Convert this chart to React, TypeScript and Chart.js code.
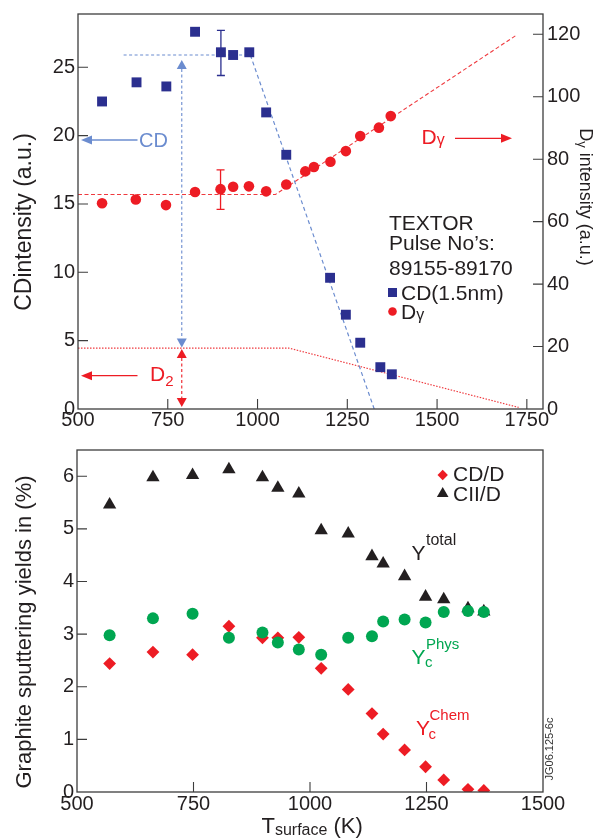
import React, { useEffect, useRef } from "react";
import { Chart, registerables } from "chart.js";

Chart.register(...registerables);

const FONT = "'Liberation Sans', Arimo, Arial, Helvetica, sans-serif";
const INK = "#231f20";
const FRAME = "#3d3d3d";
const NAVY = "#2b2f8f";
const RED = "#ed1c24";
const LBLUE = "#6b8ccf";
const GREEN = "#00a651";

// ---------- Top panel data ----------
const cdTemp = [567, 663, 746, 826, 898, 932, 977, 1024, 1080, 1202, 1246, 1286, 1342, 1374];
const cdIntensity = [22.5, 23.9, 23.6, 27.6, 26.1, 25.9, 26.1, 21.7, 18.6, 9.6, 6.9, 4.85, 3.06, 2.54];
const dgTemp = [567, 661, 745, 826, 897, 932, 976, 1024, 1080, 1133, 1157, 1203, 1246, 1286, 1338, 1371];
const dgIntensity = [65.9, 67.1, 65.3, 69.5, 70.4, 71.2, 71.3, 69.7, 71.9, 76.1, 77.5, 79.2, 82.6, 87.4, 90.1, 93.8];
const cdErrT = 898;
const cdErrLo = 24.4;
const cdErrHi = 27.7;
const dgErrT = 897;
const dgErrLo = 63.9;
const dgErrHi = 76.6;
const cdFlatT = [627, 980];
const cdFlatV = [25.9, 25.9];
const cdSlopeT = [980, 1325];
const cdSlopeV = [25.9, 0];
const dgFitT = [500, 1050, 1722];
const dgFitV = [68.7, 68.7, 119.8];
const d2T = [500, 1087, 1727];
const d2V = [19.5, 19.5, 0.5];
const arrowT = 789;
const topXTicks = [500, 750, 1000, 1250, 1500, 1750];
const topYTicks = [0, 5, 10, 15, 20, 25];
const topY2Ticks = [0, 20, 40, 60, 80, 100, 120];

// ---------- Bottom panel data ----------
const yTemp = [570, 663, 748, 826, 898, 931, 976, 1024, 1082, 1133, 1157, 1203, 1248, 1287, 1339, 1373];
const ciiD = [5.46, 5.98, 6.02, 6.13, 5.98, 5.78, 5.67, 4.97, 4.91, 4.48, 4.34, 4.1, 3.71, 3.66, 3.49, 3.43];
const cdD = [2.44, 2.66, 2.61, 3.15, 2.93, 2.93, 2.94, 2.35, 1.95, 1.49, 1.1, 0.8, 0.48, 0.23, 0.05, 0.03];
const yPhys = [2.98, 3.3, 3.39, 2.93, 3.03, 2.84, 2.71, 2.61, 2.93, 2.96, 3.24, 3.28, 3.22, 3.42, 3.44, 3.42];
const botXTicks = [500, 750, 1000, 1250, 1500];
const botYTicks = [0, 1, 2, 3, 4, 5, 6];

const pts = (xs: number[], ys: number[]) => xs.map((x, i) => ({ x, y: ys[i] }));
const fmt = (v: any) => String(v);
const fixTicks = (vals: number[]) => (s: any) => {
  s.ticks = vals.map((v) => ({ value: v }));
};

type Part = { t: string; size: number; dy?: number; color?: string };

function richWidth(ctx: CanvasRenderingContext2D, parts: Part[]) {
  let w = 0;
  for (const p of parts) {
    ctx.font = `${p.size}px ${FONT}`;
    w += ctx.measureText(p.t).width;
  }
  return w;
}

function drawRich(ctx: CanvasRenderingContext2D, x: number, y: number, parts: Part[], color: string, align = "left") {
  const w = richWidth(ctx, parts);
  let cx = align === "center" ? x - w / 2 : x;
  ctx.textBaseline = "alphabetic";
  ctx.textAlign = "left";
  for (const p of parts) {
    ctx.font = `${p.size}px ${FONT}`;
    ctx.fillStyle = p.color || color;
    ctx.fillText(p.t, cx, y + (p.dy || 0));
    cx += ctx.measureText(p.t).width;
  }
}

function drawRotated(ctx: CanvasRenderingContext2D, cx: number, cy: number, angle: number, parts: Part[], color: string) {
  ctx.save();
  ctx.translate(cx, cy);
  ctx.rotate(angle);
  drawRich(ctx, 0, parts[0].size * 0.36, parts, color, "center");
  ctx.restore();
}

function hArrow(ctx: CanvasRenderingContext2D, tail: number, tip: number, y: number, color: string) {
  const dir = tip > tail ? 1 : -1;
  const hl = 11;
  ctx.strokeStyle = color;
  ctx.fillStyle = color;
  ctx.lineWidth = 1.3;
  ctx.setLineDash([]);
  ctx.beginPath();
  ctx.moveTo(tail, y);
  ctx.lineTo(tip - dir * hl, y);
  ctx.stroke();
  ctx.beginPath();
  ctx.moveTo(tip, y);
  ctx.lineTo(tip - dir * hl, y - 4.5);
  ctx.lineTo(tip - dir * hl, y + 4.5);
  ctx.closePath();
  ctx.fill();
}

function vArrow(ctx: CanvasRenderingContext2D, x: number, yTop: number, yBot: number, color: string) {
  const hl = 9;
  const hw = 5;
  ctx.fillStyle = color;
  ctx.strokeStyle = color;
  ctx.lineWidth = 1.1;
  ctx.setLineDash([3, 2.5]);
  ctx.beginPath();
  ctx.moveTo(x, yTop + hl);
  ctx.lineTo(x, yBot - hl);
  ctx.stroke();
  ctx.setLineDash([]);
  ctx.beginPath();
  ctx.moveTo(x, yTop);
  ctx.lineTo(x - hw, yTop + hl);
  ctx.lineTo(x + hw, yTop + hl);
  ctx.closePath();
  ctx.fill();
  ctx.beginPath();
  ctx.moveTo(x, yBot);
  ctx.lineTo(x - hw, yBot - hl);
  ctx.lineTo(x + hw, yBot - hl);
  ctx.closePath();
  ctx.fill();
}

function errorBar(ctx: CanvasRenderingContext2D, x: number, yLo: number, yHi: number, color: string) {
  ctx.strokeStyle = color;
  ctx.lineWidth = 1.3;
  ctx.setLineDash([]);
  ctx.beginPath();
  ctx.moveTo(x, yLo);
  ctx.lineTo(x, yHi);
  ctx.moveTo(x - 4, yLo);
  ctx.lineTo(x + 4, yLo);
  ctx.moveTo(x - 4, yHi);
  ctx.lineTo(x + 4, yHi);
  ctx.stroke();
}

function frameAndTicks(chart: any, tickLen: number, axes: { id: string; side: string }[]) {
  const { ctx, chartArea: a } = chart;
  ctx.save();
  ctx.strokeStyle = FRAME;
  ctx.lineWidth = 1.3;
  ctx.setLineDash([]);
  ctx.strokeRect(a.left, a.top, a.right - a.left, a.bottom - a.top);
  ctx.beginPath();
  for (const ax of axes) {
    const s = chart.scales[ax.id];
    for (const t of s.ticks) {
      const p = s.getPixelForValue(t.value);
      if (ax.side === "bottom") {
        if (p <= a.left + 1 || p >= a.right - 1) continue;
        ctx.moveTo(p, a.bottom);
        ctx.lineTo(p, a.bottom - tickLen);
      } else {
        if (p >= a.bottom - 1 || p <= a.top + 1) continue;
        if (ax.side === "left") {
          ctx.moveTo(a.left, p);
          ctx.lineTo(a.left + tickLen, p);
        } else {
          ctx.moveTo(a.right, p);
          ctx.lineTo(a.right - tickLen, p);
        }
      }
    }
  }
  ctx.lineWidth = 1.1;
  ctx.stroke();
  ctx.restore();
}

const topDeco = {
  id: "topDeco",
  beforeDatasetsDraw(chart: any) {
    const { ctx } = chart;
    const { x, y, y2 } = chart.scales;
    ctx.save();
    errorBar(ctx, x.getPixelForValue(cdErrT), y.getPixelForValue(cdErrLo), y.getPixelForValue(cdErrHi), NAVY);
    errorBar(ctx, x.getPixelForValue(dgErrT), y2.getPixelForValue(dgErrLo), y2.getPixelForValue(dgErrHi), RED);
    const ax = x.getPixelForValue(arrowT);
    const yTop = y.getPixelForValue(cdFlatV[0]);
    const yMid = y2.getPixelForValue(d2V[0]);
    const yBot = y.getPixelForValue(0);
    vArrow(ctx, ax, yTop + 5, yMid - 0.5, LBLUE);
    vArrow(ctx, ax, yMid + 1, yBot - 2, RED);
    ctx.restore();
  },
  afterDraw(chart: any) {
    frameAndTicks(chart, 10, [
      { id: "x", side: "bottom" },
      { id: "y", side: "left" },
      { id: "y2", side: "right" },
    ]);
    const { ctx, chartArea: a } = chart;
    ctx.save();
    // CD arrow
    hArrow(ctx, 137.5, a.left + 3, 140, LBLUE);
    drawRich(ctx, 139, 146.5, [{ t: "CD", size: 20 }], LBLUE);
    // D gamma arrow
    drawRich(ctx, 421.5, 144, [{ t: "D", size: 21 }, { t: "γ", size: 16, dy: 1 }], RED);
    hArrow(ctx, 455, 512, 138.3, RED);
    // D2 arrow
    hArrow(ctx, 137.5, a.left + 3, 375.7, RED);
    drawRich(ctx, 150, 381, [{ t: "D", size: 21 }, { t: "2", size: 15, dy: 5 }], RED);
    // legend block
    drawRich(ctx, 389, 230, [{ t: "TEXTOR", size: 21 }], INK);
    drawRich(ctx, 389, 249.5, [{ t: "Pulse No’s:", size: 21 }], INK);
    drawRich(ctx, 389, 275, [{ t: "89155-89170", size: 21 }], INK);
    ctx.fillStyle = NAVY;
    ctx.fillRect(388, 288, 9, 9);
    drawRich(ctx, 401, 299.5, [{ t: "CD(1.5nm)", size: 21 }], INK);
    ctx.fillStyle = RED;
    ctx.beginPath();
    ctx.arc(392.5, 311.5, 4.3, 0, Math.PI * 2);
    ctx.fill();
    drawRich(ctx, 401, 318.5, [{ t: "D", size: 21 }, { t: "γ", size: 16, dy: 1 }], INK);
    // axis titles
    drawRotated(ctx, 23, 222, -Math.PI / 2, [{ t: "CDintensity (a.u.)", size: 23 }], INK);
    drawRotated(ctx, 586, 197, Math.PI / 2, [
      { t: "D", size: 18 },
      { t: "γ", size: 13, dy: 2 },
      { t: " intensity (a.u.)", size: 18 },
    ], INK);
    ctx.restore();
  },
};

const botDeco = {
  id: "botDeco",
  afterDraw(chart: any) {
    frameAndTicks(chart, 10, [
      { id: "x", side: "bottom" },
      { id: "y", side: "left" },
    ]);
    const { ctx } = chart;
    const o = 432;
    ctx.save();
    // legend
    ctx.fillStyle = RED;
    ctx.beginPath();
    ctx.moveTo(442.7, 475 - o - 5.2);
    ctx.lineTo(447.9, 475 - o);
    ctx.lineTo(442.7, 475 - o + 5.2);
    ctx.lineTo(437.5, 475 - o);
    ctx.closePath();
    ctx.fill();
    drawRich(ctx, 453, 480.5 - o, [{ t: "CD/D", size: 21 }], INK);
    ctx.fillStyle = INK;
    ctx.beginPath();
    ctx.moveTo(442.7, 493.5 - o - 6.5);
    ctx.lineTo(448.5, 493.5 - o + 3.5);
    ctx.lineTo(436.9, 493.5 - o + 3.5);
    ctx.closePath();
    ctx.fill();
    drawRich(ctx, 453, 500.5 - o, [{ t: "CII/D", size: 21 }], INK);
    // annotations
    drawRich(ctx, 411.5, 560 - o, [{ t: "Y", size: 21 }], INK);
    drawRich(ctx, 426, 545 - o, [{ t: "total", size: 16 }], INK);
    drawRich(ctx, 411.5, 663.5 - o, [{ t: "Y", size: 21 }], GREEN);
    drawRich(ctx, 426, 648.5 - o, [{ t: "Phys", size: 15 }], GREEN);
    drawRich(ctx, 425, 667 - o, [{ t: "c", size: 15 }], GREEN);
    drawRich(ctx, 416, 735 - o, [{ t: "Y", size: 21 }], RED);
    drawRich(ctx, 429.5, 719.5 - o, [{ t: "Chem", size: 15 }], RED);
    drawRich(ctx, 428.5, 738.5 - o, [{ t: "c", size: 15 }], RED);
    // figure id
    drawRotated(ctx, 549.5, 749 - o, -Math.PI / 2, [{ t: "JG06.125-6c", size: 11 }], "#333");
    // axis titles
    drawRotated(ctx, 23, 632 - o, -Math.PI / 2, [{ t: "Graphite sputtering yields in (%)", size: 22 }], INK);
    drawRich(ctx, 261.5, 833 - o, [
      { t: "T", size: 22 },
      { t: "surface", size: 16, dy: 2 },
      { t: " (K)", size: 22 },
    ], INK);
    ctx.restore();
  },
};

const tickFont = { family: FONT, size: 20, lineHeight: 1 };

function topConfig(): any {
  return {
    type: "scatter",
    data: {
      datasets: [
        {
          label: "CD(1.5nm)",
          data: pts(cdTemp, cdIntensity),
          yAxisID: "y",
          pointStyle: "rect",
          pointRadius: 7,
          pointBorderWidth: 0,
          backgroundColor: NAVY,
          borderColor: NAVY,
          order: 0,
        },
        {
          label: "Dγ",
          data: pts(dgTemp, dgIntensity),
          yAxisID: "y2",
          pointStyle: "circle",
          pointRadius: 5.3,
          pointBorderWidth: 0,
          backgroundColor: RED,
          borderColor: RED,
          order: 0,
        },
        {
          label: "CD flat",
          data: pts(cdFlatT, cdFlatV),
          yAxisID: "y",
          showLine: true,
          pointRadius: 0,
          borderColor: LBLUE,
          borderWidth: 1.2,
          borderDash: [3, 2.5],
          order: 2,
        },
        {
          label: "CD slope",
          data: pts(cdSlopeT, cdSlopeV),
          yAxisID: "y",
          showLine: true,
          pointRadius: 0,
          borderColor: LBLUE,
          borderWidth: 1.2,
          borderDash: [4, 3],
          order: 2,
        },
        {
          label: "Dγ fit",
          data: pts(dgFitT, dgFitV),
          yAxisID: "y2",
          showLine: true,
          pointRadius: 0,
          borderColor: "#ef3a3f",
          borderWidth: 1.1,
          borderDash: [4, 2.5],
          order: 2,
        },
        {
          label: "D2",
          data: pts(d2T, d2V),
          yAxisID: "y2",
          showLine: true,
          pointRadius: 0,
          borderColor: "#ef3a3f",
          borderWidth: 1.2,
          borderDash: [1.5, 1.5],
          order: 2,
        },
      ],
    },
    options: {
      responsive: false,
      animation: false,
      devicePixelRatio: 1,
      layout: { padding: { top: 6, left: 0, right: 0, bottom: 0 } },
      plugins: { legend: { display: false }, tooltip: { enabled: false } },
      events: [],
      scales: {
        x: {
          type: "linear",
          position: "bottom",
          min: 500,
          max: 1795,
          afterBuildTicks: fixTicks(topXTicks),
          afterFit: (s: any) => { s.height = 23; },
          grid: { display: false, drawTicks: false },
          border: { display: false },
          ticks: { font: tickFont, color: INK, padding: 1, maxRotation: 0, autoSkip: false, callback: fmt },
        },
        y: {
          type: "linear",
          position: "left",
          min: 0,
          max: 28.9,
          afterBuildTicks: fixTicks(topYTicks),
          afterFit: (s: any) => { s.width = 78; },
          grid: { display: false, drawTicks: false },
          border: { display: false },
          ticks: { font: tickFont, color: INK, padding: 3, autoSkip: false, callback: fmt },
        },
        y2: {
          type: "linear",
          position: "right",
          min: 0,
          max: 126.5,
          afterBuildTicks: fixTicks(topY2Ticks),
          afterFit: (s: any) => { s.width = 68; },
          grid: { display: false, drawTicks: false },
          border: { display: false },
          ticks: { font: tickFont, color: INK, padding: 4, autoSkip: false, callback: fmt },
        },
      },
    },
    plugins: [topDeco],
  };
}

function botConfig(): any {
  return {
    type: "scatter",
    data: {
      datasets: [
        {
          label: "CII/D",
          data: pts(yTemp, ciiD),
          pointStyle: "triangle",
          pointRadius: 7.7,
          pointBorderWidth: 0,
          backgroundColor: INK,
          borderColor: INK,
          order: 2,
        },
        {
          label: "CD/D",
          data: pts(yTemp, cdD),
          pointStyle: "rectRot",
          pointRadius: 6.4,
          pointBorderWidth: 0,
          backgroundColor: RED,
          borderColor: RED,
          order: 1,
        },
        {
          label: "Yc Phys",
          data: pts(yTemp, yPhys),
          pointStyle: "circle",
          pointRadius: 6,
          pointBorderWidth: 0,
          backgroundColor: GREEN,
          borderColor: GREEN,
          order: 0,
        },
      ],
    },
    options: {
      responsive: false,
      animation: false,
      devicePixelRatio: 1,
      layout: { padding: { top: 18, left: 0, right: 68, bottom: 0 } },
      plugins: { legend: { display: false }, tooltip: { enabled: false } },
      events: [],
      scales: {
        x: {
          type: "linear",
          position: "bottom",
          min: 500,
          max: 1500,
          afterBuildTicks: fixTicks(botXTicks),
          afterFit: (s: any) => { s.height = 47; },
          grid: { display: false, drawTicks: false },
          border: { display: false },
          ticks: { font: tickFont, color: INK, padding: 2, maxRotation: 0, autoSkip: false, callback: fmt },
        },
        y: {
          type: "linear",
          position: "left",
          min: 0,
          max: 6.5,
          afterBuildTicks: fixTicks(botYTicks),
          afterFit: (s: any) => { s.width = 77; },
          grid: { display: false, drawTicks: false },
          border: { display: false },
          ticks: { font: tickFont, color: INK, padding: 3, autoSkip: false, callback: fmt },
        },
      },
    },
    plugins: [botDeco],
  };
}

export default function App() {
  const topRef = useRef<HTMLCanvasElement>(null);
  const botRef = useRef<HTMLCanvasElement>(null);
  useEffect(() => {
    const c1 = new Chart(topRef.current as HTMLCanvasElement, topConfig());
    const c2 = new Chart(botRef.current as HTMLCanvasElement, botConfig());
    return () => {
      c1.destroy();
      c2.destroy();
    };
  }, []);
  return (
    <div style={{ position: "absolute", left: 0, top: 0, width: 611, height: 839, background: "#fff" }}>
      <canvas ref={topRef} width={611} height={432} style={{ position: "absolute", left: 0, top: 0, width: 611, height: 432 }} />
      <canvas ref={botRef} width={611} height={407} style={{ position: "absolute", left: 0, top: 432, width: 611, height: 407 }} />
    </div>
  );
}
